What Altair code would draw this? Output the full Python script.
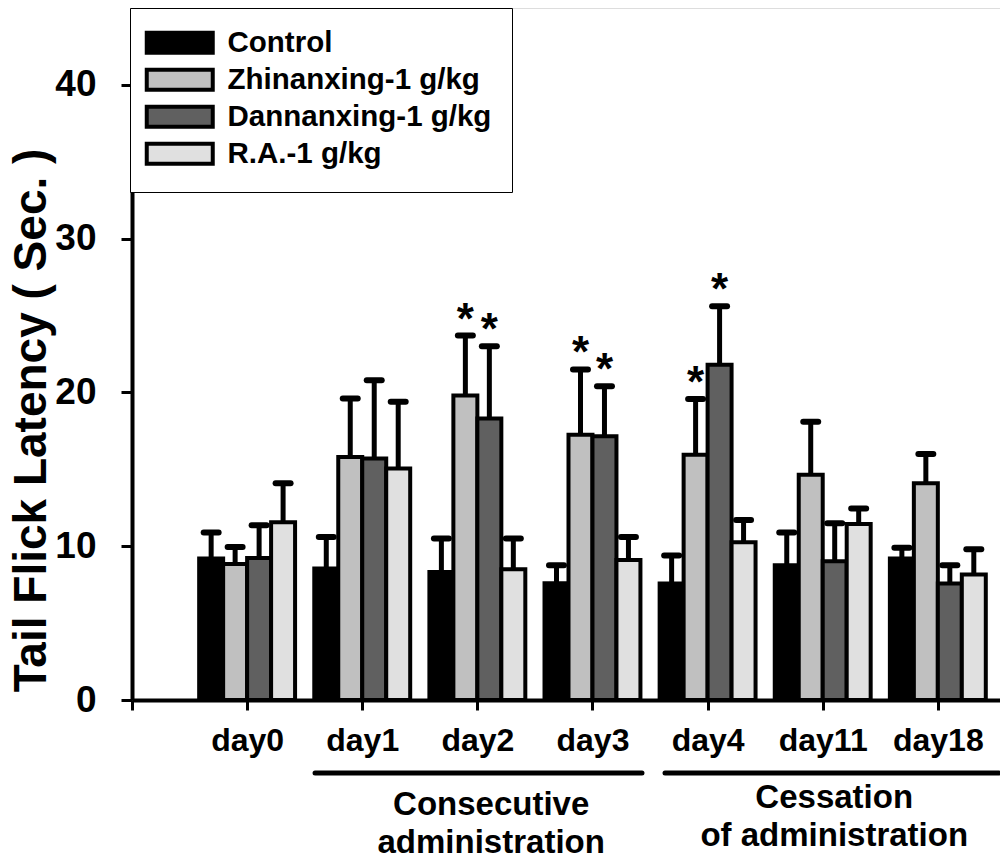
import altair as alt
import pandas as pd

days = ["day0", "day1", "day2", "day3", "day4", "day11", "day18"]
series = ["Control", "Zhinanxing-1 g/kg", "Dannanxing-1 g/kg", "R.A.-1 g/kg"]
colors = ["#000000", "#c0c0c0", "#606060", "#e0e0e0"]

control_mean = [9.2, 8.55, 8.33, 7.6, 7.58, 8.77, 9.2]
control_sd = [1.7, 2.05, 2.17, 1.17, 1.82, 2.13, 0.7]
zhinan_mean = [8.85, 15.8, 19.8, 17.25, 15.95, 14.65, 14.1]
zhinan_sd = [1.1, 3.8, 3.9, 4.25, 3.62, 3.45, 1.9]
dannan_mean = [9.24, 15.7, 18.3, 17.15, 21.8, 9.03, 7.58]
dannan_sd = [2.12, 5.1, 4.7, 3.25, 3.8, 2.47, 1.19]
ra_mean = [11.56, 15.06, 8.5, 9.1, 10.26, 11.45, 8.16]
ra_sd = [2.54, 4.34, 2.0, 1.5, 1.44, 1.0, 1.64]

# significance marks (day, series)
stars = [("day2", "Zhinanxing-1 g/kg"), ("day2", "Dannanxing-1 g/kg"),
         ("day3", "Zhinanxing-1 g/kg"), ("day3", "Dannanxing-1 g/kg"),
         ("day4", "Zhinanxing-1 g/kg"), ("day4", "Dannanxing-1 g/kg")]

# phase brackets under the axis
phase_labels = ["Consecutive\nadministration", "Cessation\nof administration"]
phase_start = [1.59, 4.63]
phase_end = [4.43, 7.53]
phase_center = [3.12, 6.1]

means = [control_mean, zhinan_mean, dannan_mean, ra_mean]
sds = [control_sd, zhinan_sd, dannan_sd, ra_sd]

BW = 0.2083   # bar width in axis units
CAP = 0.065   # half cap width

rows = []
for j, s in enumerate(series):
    for i, d in enumerate(days):
        xc = (i + 1) + (j - 1.5) * BW
        m = means[j][i]
        sd = sds[j][i]
        rows.append({
            "day": d, "series": s, "mean": m, "top": m + sd,
            "xc": xc, "x1": xc - BW / 2, "x2": xc + BW / 2,
            "cl": xc - CAP, "cr": xc + CAP,
            "star": (d, s) in stars,
        })
df = pd.DataFrame(rows)

ph = pd.DataFrame({"label": phase_labels, "start": phase_start,
                   "end": phase_end, "center": phase_center})

FONT = "Liberation Sans"
label_expr = "[''," + ",".join(f"'{d}'" for d in days) + "][datum.value]"

xscale = alt.Scale(domain=[0, 7.54], nice=False, zero=False)
yscale = alt.Scale(domain=[0, 45], nice=False)

xaxis = alt.Axis(values=list(range(0, 8)), labelExpr=label_expr, title=None,
                 grid=False, domainWidth=4, domainColor="black",
                 tickWidth=3, tickSize=10, tickColor="black",
                 labelFont=FONT, labelFontSize=32, labelFontWeight="bold",
                 labelColor="black", labelPadding=15, labelOverlap=False,
                 labelBound=False, labelFlush=False)
yaxis = alt.Axis(values=[0, 10, 20, 30, 40], title="Tail Flick Latency ( Sec. )",
                 grid=False, domainWidth=4, domainColor="black",
                 tickWidth=3, tickSize=11, tickColor="black",
                 labelFont=FONT, labelFontSize=37, labelFontWeight="bold",
                 labelColor="black", labelPadding=25,
                 titleFont=FONT, titleFontSize=46, titleFontWeight="bold",
                 titleColor="black", titleX=-101, titleY=412,
                 titleAlign="center", titleBaseline="middle", titleAngle=270)

base = alt.Chart(df)

bars = base.mark_bar(stroke="black", strokeWidth=4).encode(
    x=alt.X("x1:Q", scale=xscale, axis=xaxis),
    x2="x2:Q",
    y=alt.Y("mean:Q", scale=yscale, axis=yaxis, stack=None),
    y2=alt.datum(0),
    fill=alt.Fill("series:N", scale=alt.Scale(domain=series, range=colors),
                  sort=series,
                  legend=alt.Legend(orient="none", legendX=-2, legendY=0,
                                    title=None, fillColor="white",
                                    strokeColor="black", padding=20,
                                    symbolType="M-3,-0.9H3V0.9H-3Z",
                                    symbolSize=484, symbolStrokeWidth=4,
                                    symbolStrokeColor="black",
                                    symbolOffset=15,
                                    labelFont=FONT, labelFontSize=29.5,
                                    labelFontWeight="bold", labelColor="black",
                                    labelOffset=33, rowPadding=0,
                                    labelLimit=400)),
)

err = base.mark_rule(color="black", strokeWidth=5).encode(
    x="xc:Q", y="mean:Q", y2="top:Q")

caps = base.mark_rule(color="black", strokeWidth=6, strokeCap="round").encode(
    x="cl:Q", x2="cr:Q", y="top:Q")

star_marks = base.transform_filter("datum.star").mark_text(
    text="*", font=FONT, fontSize=44, fontWeight="bold", color="black",
    baseline="alphabetic", dy=-2).encode(x="xc:Q", y="top:Q")

brk = alt.Chart(ph).mark_rule(color="black", strokeWidth=5, strokeCap="round").encode(
    x="start:Q", x2="end:Q", y=alt.value(765))

txt1 = alt.Chart(ph).transform_filter("datum.center < 4").mark_text(
    font=FONT, fontSize=33, fontWeight="bold", color="black", align="center",
    baseline="alphabetic", lineBreak="\n", lineHeight=38).encode(
    x="center:Q", y=alt.value(807), text="label:N")

txt2 = alt.Chart(ph).transform_filter("datum.center > 4").mark_text(
    font=FONT, fontSize=33, fontWeight="bold", color="black", align="center",
    baseline="alphabetic", lineBreak="\n", lineHeight=38).encode(
    x="center:Q", y=alt.value(800), text="label:N")

chart = alt.layer(bars, err, caps, star_marks, brk, txt1, txt2).properties(
    width=868, height=692,
    autosize=alt.AutoSizeParams(type="none"),
    padding={"left": 132, "top": 8, "right": 0, "bottom": 159},
).configure_view(stroke=None).configure(background="white")

chart.save("out.html", embed_options={"renderer": "svg", "actions": False})
